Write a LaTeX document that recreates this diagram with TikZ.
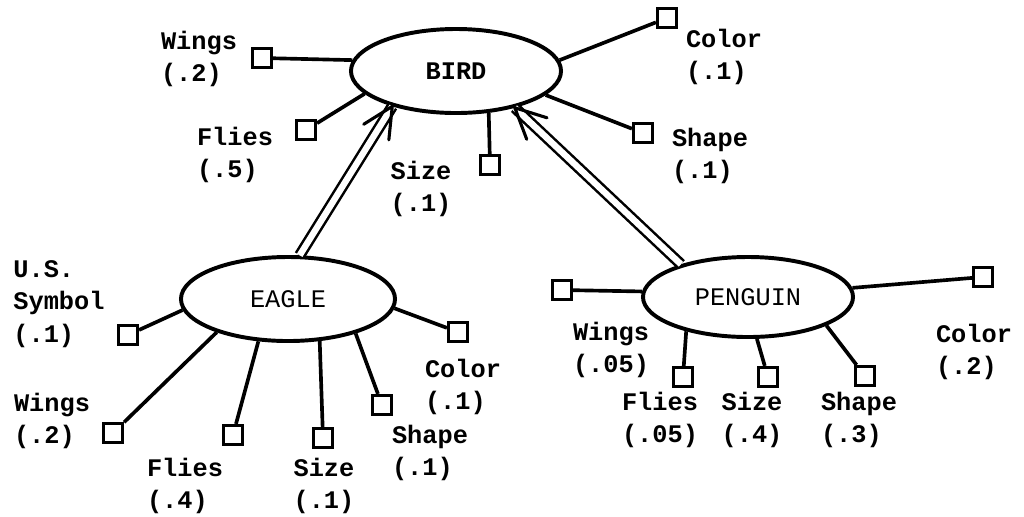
\documentclass[tikz,border=0pt]{standalone}
\usepackage{fontspec}
\newfontfamily\typew{Liberation Mono}
\usetikzlibrary{shapes.geometric,calc}

\begin{document}
\begin{tikzpicture}[x=0.025cm,y=-0.025cm,line width=2.6pt,
    concept/.style={ellipse,draw,line width=2.8pt,minimum width=5.25cm,minimum height=2.1cm,inner sep=0pt,font=\typew\fontsize{18}{22}\selectfont},
    slot/.style={draw,line width=2.4pt,minimum size=0.47cm,inner sep=0pt},
    lab/.style={align=left,inner sep=0pt,font=\typew\bfseries\fontsize{18}{23}\selectfont},
    isa/.style={double,double distance=4.5pt,line width=1.8pt},
    barb/.style={line width=2.2pt,line cap=round,line join=round}]
    \useasboundingbox (0,0) rectangle (1024,516);

    % concepts
    \node[concept,font=\typew\bfseries\fontsize{18}{22}\selectfont] (bird) at (456,71) {BIRD};
    \node[concept,minimum width=5.35cm] (eagle) at (288,299) {EAGLE};
    \node[concept,minimum height=2.0cm] (penguin) at (748,297) {PENGUIN};

    % bird features
    \node[slot] (bwings) at (262,58) {};
    \node[slot] (bflies) at (306,130) {};
    \node[slot] (bsize) at (490,165) {};
    \node[slot] (bcolor) at (667,18) {};
    \node[slot] (bshape) at (643,133) {};
    \draw (bird.174) -- (bwings);
    \draw (bird.194) -- (bflies);
    \draw (bird.308) -- (bsize);
    \draw (bird.6) -- (bcolor);
    \draw (bird.345) -- (bshape);
    \node[lab] at (199,59) {Wings\\(.2)};
    \node[lab] at (235,155) {Flies\\(.5)};
    \node[lab] at (421,189) {Size\\(.1)};
    \node[lab] at (724,57) {Color\\(.1)};
    \node[lab] at (710,156) {Shape\\(.1)};

    % eagle features
    \node[slot] (esym) at (128,335) {};
    \node[slot] (ewings) at (113,433) {};
    \node[slot] (eflies) at (233,435) {};
    \node[slot] (esize) at (323,438) {};
    \node[slot] (eshape) at (382,405) {};
    \node[slot] (ecolor) at (458,332) {};
    \draw (eagle.186) -- (esym);
    \draw (eagle.205) -- (ewings);
    \draw (eagle.235) -- (eflies);
    \draw (eagle.307) -- (esize);
    \draw (eagle.333) -- (eshape);
    \draw (eagle.355) -- (ecolor);
    \node[lab] at (59,304) {U.S.\\Symbol\\(.1)};
    \node[lab] at (52,421) {Wings\\(.2)};
    \node[lab] at (185,486) {Flies\\(.4)};
    \node[lab] at (324,486) {Size\\(.1)};
    \node[lab] at (430,453) {Shape\\(.1)};
    \node[lab] at (463,387) {Color\\(.1)};

    % penguin features
    \node[slot] (pwings) at (562,290) {};
    \node[slot] (pflies) at (683,377) {};
    \node[slot] (psize) at (768,377) {};
    \node[slot] (pshape) at (865,376) {};
    \node[slot] (pcolor) at (983,277) {};
    \draw (penguin.177) -- (pwings);
    \draw (penguin.209) -- (pflies);
    \draw (penguin.282) -- (psize);
    \draw (penguin.340) -- (pshape);
    \draw (penguin.5) -- (pcolor);
    \node[lab] at (611,350) {Wings\\(.05)};
    \node[lab] at (660,420) {Flies\\(.05)};
    \node[lab] at (752,420) {Size\\(.4)};
    \node[lab] at (859,420) {Shape\\(.3)};
    \node[lab] at (974,352) {Color\\(.2)};

    % is-a links
    \draw[isa] (eagle.75) -- (bird.209);
    \draw[barb] ($(bird.209)!24pt!26:(eagle.75)$) -- (bird.209) -- ($(bird.209)!24pt!-26:(eagle.75)$);
    \draw[isa] (penguin.154) -- (bird.328);
    \draw[barb] ($(bird.328)!24pt!26:(penguin.154)$) -- (bird.328) -- ($(bird.328)!24pt!-26:(penguin.154)$);
\end{tikzpicture}
\end{document}
